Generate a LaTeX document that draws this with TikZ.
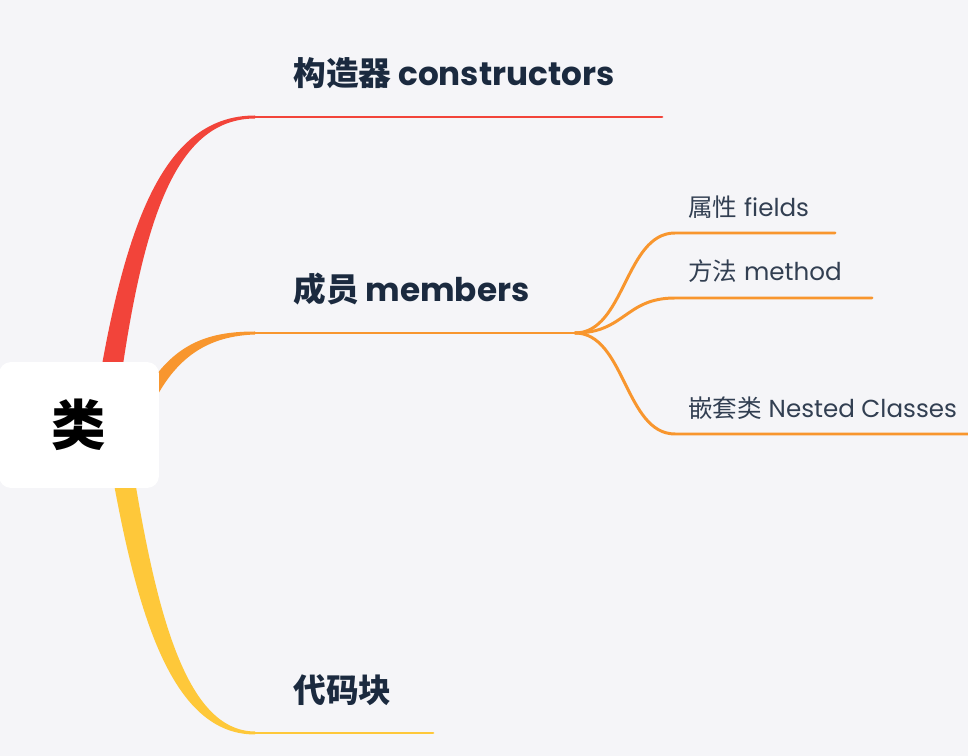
\documentclass[tikz,border=0pt]{standalone}
\usepackage{fontspec}
\setmainfont{Poppins}
\newfontfamily\cjk{Noto Sans CJK SC}
\usetikzlibrary{calc}
\definecolor{bgpaper}{HTML}{F5F5F8}
\definecolor{redbranch}{HTML}{F2443A}
\definecolor{orangebranch}{HTML}{F8962E}
\definecolor{yellowbranch}{HTML}{FEC83A}
\definecolor{inkblue}{HTML}{1B2A3F}

\begin{document}
\begin{tikzpicture}[x=0.02cm, y=-0.02cm,
  maintopic/.style={anchor=west, inner sep=0pt, text=inkblue, font=\fontsize{18.6}{22}\selectfont\bfseries},
  subtopic/.style={anchor=west, inner sep=0pt, text=inkblue!90, font=\fontsize{14}{17}\selectfont},
  thinline/.style={line width=1.7pt, line cap=round}]
  \fill[bgpaper] (0,0) rectangle (968,756);
  \useasboundingbox (0,0) rectangle (968,756);

  \coordinate (ctor-bend) at (255,117);
  \coordinate (ctor-end) at (662,117);
  \coordinate (members-bend) at (255,333);
  \coordinate (members-fork) at (575,333);
  \coordinate (block-bend) at (255,733);
  \coordinate (block-end) at (433,733);
  \coordinate (fields-bend) at (675,233);
  \coordinate (fields-end) at (835,233);
  \coordinate (method-bend) at (675,298);
  \coordinate (method-end) at (872,298);
  \coordinate (nested-bend) at (675,434);
  \coordinate (nested-end) at (975,434);

  % thick tapered branches out of the root
  \fill[redbranch] (96,400) .. controls (125,220) and (165,115.5) .. ($(ctor-bend)+(0,-1.5)$)
    -- ($(ctor-bend)+(0,1.5)$) .. controls (175,119) and (142,220) .. (118,400) -- cycle;
  \fill[orangebranch] (140,400) .. controls (170,345) and (205,331.5) .. ($(members-bend)+(0,-1.5)$)
    -- ($(members-bend)+(0,1.5)$) .. controls (210,336) and (175,355) .. (150,410) -- cycle;
  \fill[yellowbranch] (108,450) .. controls (135,610) and (170,734.5) .. ($(block-bend)+(0,1.5)$)
    -- ($(block-bend)+(0,-1.5)$) .. controls (185,731) and (155,610) .. (130,450) -- cycle;

  \draw[thinline, redbranch] (ctor-bend) -- (ctor-end);
  \draw[thinline, orangebranch] (members-bend) -- (members-fork);
  \draw[thinline, yellowbranch] (block-bend) -- (block-end);

  % members children
  \draw[thinline, orangebranch] (members-fork) .. controls +(50,0) and +(-50,0) .. (fields-bend) -- (fields-end);
  \draw[thinline, orangebranch] (members-fork) .. controls +(50,0) and +(-50,0) .. (method-bend) -- (method-end);
  \draw[thinline, orangebranch] (members-fork) .. controls +(50,0) and +(-50,0) .. (nested-bend) -- (nested-end);

  \node[fill=white, rounded corners=0.24cm, minimum width=3.2cm, minimum height=2.52cm,
    font=\fontsize{31}{34}\selectfont\cjk\bfseries] (root) at (79,425) {类};

  \node[maintopic] (ctor) at (293,73) {{\cjk 构造器} constructors};
  \node[maintopic] (members) at (293,289) {{\cjk 成员} members};
  \node[maintopic] (block) at (293,690) {{\cjk 代码块}};
  \node[subtopic] (fields) at (688,207) {{\cjk 属性} fields};
  \node[subtopic] (method) at (688,271) {{\cjk 方法} method};
  \node[subtopic] (nested) at (688,408) {{\cjk 嵌套类} Nested Classes};
\end{tikzpicture}
\end{document}
